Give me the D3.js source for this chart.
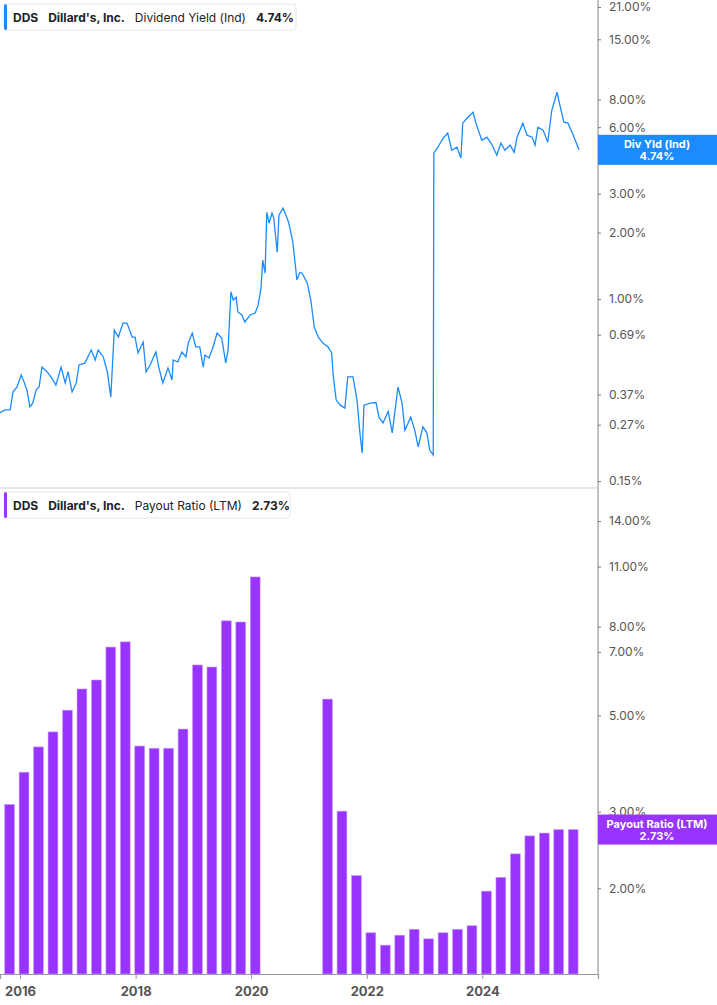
<!DOCTYPE html>
<html><head><meta charset="utf-8">
<script src="https://cdn.jsdelivr.net/npm/d3@7"></script>
<style>body{margin:0;background:#fff;font-family:Inter,"Noto Sans",sans-serif}</style>
</head><body><svg id="c" width="717" height="1005"></svg>
<script>
// Dividend yield (decimal year, %)
const yieldYears = [2015.65,2015.74,2015.83,2015.88,2015.95,2016.02,2016.07,2016.12,2016.17,2016.22,2016.28,2016.33,2016.38,2016.47,2016.55,2016.62,2016.71,2016.78,2016.83,2016.90,2016.97,2017.02,2017.12,2017.23,2017.30,2017.35,2017.44,2017.51,2017.57,2017.63,2017.70,2017.78,2017.85,2017.94,2017.99,2018.04,2018.13,2018.18,2018.25,2018.35,2018.40,2018.47,2018.56,2018.63,2018.65,2018.73,2018.80,2018.87,2018.91,2018.98,2019.04,2019.11,2019.17,2019.20,2019.27,2019.34,2019.41,2019.49,2019.56,2019.60,2019.65,2019.69,2019.74,2019.77,2019.84,2019.89,2019.98,2020.07,2020.12,2020.17,2020.20,2020.24,2020.27,2020.31,2020.36,2020.39,2020.45,2020.48,2020.55,2020.60,2020.65,2020.72,2020.79,2020.84,2020.88,2020.97,2021.03,2021.09,2021.16,2021.24,2021.33,2021.39,2021.42,2021.47,2021.54,2021.62,2021.67,2021.76,2021.83,2021.88,2021.92,2021.95,2022.06,2022.16,2022.21,2022.28,2022.37,2022.44,2022.49,2022.54,2022.61,2022.66,2022.76,2022.83,2022.89,2022.97,2023.04,2023.09,2023.15,2023.16,2023.23,2023.32,2023.40,2023.47,2023.56,2023.63,2023.66,2023.75,2023.84,2023.89,2023.99,2024.08,2024.17,2024.25,2024.32,2024.39,2024.48,2024.55,2024.60,2024.70,2024.77,2024.86,2024.91,2024.96,2025.05,2025.13,2025.20,2025.29,2025.34,2025.41,2025.48,2025.55,2025.62,2025.67];
const yieldValues = [0.305,0.315,0.315,0.380,0.400,0.453,0.421,0.388,0.325,0.338,0.388,0.400,0.492,0.468,0.439,0.408,0.492,0.417,0.468,0.380,0.417,0.503,0.513,0.588,0.530,0.588,0.547,0.468,0.360,0.724,0.673,0.779,0.779,0.673,0.673,0.570,0.639,0.468,0.503,0.576,0.492,0.417,0.488,0.430,0.530,0.519,0.576,0.547,0.632,0.702,0.607,0.607,0.492,0.558,0.541,0.607,0.702,0.667,0.513,0.588,1.08,0.99,1.02,0.874,0.847,0.787,0.847,0.865,0.939,1.12,1.50,1.31,2.47,2.21,2.45,2.33,1.63,2.40,2.58,2.40,2.21,1.81,1.22,1.32,1.31,1.18,0.99,0.747,0.673,0.632,0.607,0.570,0.444,0.349,0.331,0.321,0.444,0.444,0.349,0.248,0.201,0.331,0.338,0.340,0.292,0.275,0.310,0.248,0.315,0.400,0.338,0.255,0.292,0.255,0.214,0.264,0.248,0.207,0.197,4.58,4.87,5.35,5.64,4.72,4.87,4.35,6.26,6.66,7.02,6.26,5.24,5.41,4.98,4.48,5.08,4.72,4.98,4.62,5.41,6.26,5.52,5.41,4.98,6.00,5.82,5.13,7.16,8.64,7.55,6.32,6.26,5.70,5.13,4.74];
// Payout ratio (LTM), quarterly, %
const payoutQuarters = ["2015Q4","2016Q1","2016Q2","2016Q3","2016Q4","2017Q1","2017Q2","2017Q3","2017Q4","2018Q1","2018Q2","2018Q3","2018Q4","2019Q1","2019Q2","2019Q3","2019Q4","2020Q1","2020Q2","2020Q3","2020Q4","2021Q1","2021Q2","2021Q3","2021Q4","2022Q1","2022Q2","2022Q3","2022Q4","2023Q1","2023Q2","2023Q3","2023Q4","2024Q1","2024Q2","2024Q3","2024Q4","2025Q1","2025Q2","2025Q3"];
const payoutValues = [3.12,3.70,4.23,4.58,5.14,5.75,6.03,7.18,7.38,4.25,4.20,4.20,4.65,6.53,6.46,8.25,8.20,10.41,null,null,null,null,5.45,3.01,2.14,1.58,1.48,1.56,1.61,1.53,1.58,1.61,1.64,1.97,2.12,2.40,2.64,2.68,2.73,2.73];
const yieldTicks = [21,15,8,6,3,2,1,0.69,0.37,0.27,0.15];
const payoutTicks = [14,11,8,7,5,3,2];
const yearTicks = [2016,2018,2020,2022,2024];

const BLUE="#1a8cff", PURPLE="#9933ff", GREY="#555";
const svg=d3.select("#c");
const yd = v=>{const y=Math.floor(v);const d0=new Date(y,0,1),d1=new Date(y+1,0,1);return new Date(+d0+(v-y)*(d1-d0));};
const x=d3.scaleTime().domain([yd(2015.654),yd(2026.0)]).range([0,598]);
const yTop=d3.scaleLog().domain([0.141,22.6]).range([487,0]);
const yBot=d3.scaleLog().domain([1.27,16.5]).range([974,490]);

// panes separators / axes
svg.append("line").attr("x1",598).attr("x2",598).attr("y1",0).attr("y2",974).attr("stroke","#999").attr("stroke-width",1.2);
svg.append("line").attr("x1",0).attr("x2",598).attr("y1",488).attr("y2",488).attr("stroke","#ccc");

// line
const pts=yieldYears.map((t,i)=>[yd(t),yieldValues[i]]);
svg.append("path").datum(pts).attr("fill","none").attr("stroke",BLUE).attr("stroke-width",1.3)
 .attr("d",d3.line().x(d=>x(d[0])).y(d=>yTop(d[1])));

// bars
const qc=q=>{const y=+q.slice(0,4),n=+q.slice(5);return y+(n-1)/4+0.07;};
const bw=(x(yd(2020.25))-x(yd(2020)))*0.68;
svg.append("g").selectAll("rect").data(payoutQuarters.map((q,i)=>({q,v:payoutValues[i]})).filter(d=>d.v!=null))
 .join("rect").attr("x",d=>x(yd(qc(d.q)))-bw/2).attr("width",bw)
 .attr("y",d=>yBot(d.v)).attr("height",d=>974-yBot(d.v)).attr("fill",PURPLE).attr("stroke","#c9a0ff").attr("stroke-width",0.6);

// right axes
function rAxis(scale,ticks){
 const g=svg.append("g").attr("transform","translate(598,0)");
 g.call(d3.axisRight(scale).tickValues(ticks).tickSize(3).tickFormat(d=>d.toFixed(2)+"%"));
 g.select(".domain").remove();
 g.selectAll("line").attr("stroke","#777");
 g.selectAll("text").attr("x",11).attr("fill",GREY).attr("font-size",12).attr("font-family","Inter,sans-serif");
}
rAxis(yTop,yieldTicks); rAxis(yBot,payoutTicks);

// bottom axis
const xa=svg.append("g").attr("transform","translate(0,974)")
 .call(d3.axisBottom(x).tickValues(yearTicks.map(t=>yd(t))).tickSize(5).tickFormat(d3.timeFormat("%Y")));
xa.select(".domain").attr("stroke","#999").attr("stroke-width",1.2);
xa.selectAll("line").attr("stroke","#999");
xa.selectAll("text").attr("fill",GREY).attr("font-size",13).attr("font-weight","bold").attr("dy","1.1em").attr("font-family","Inter,sans-serif");

// legends
function legend(y,color,label,val,w){
 const g=svg.append("g").attr("transform",`translate(4,${y})`);
 g.append("rect").attr("width",w).attr("height",26).attr("rx",3).attr("fill","#fff").attr("stroke","#e6e6e6");
 g.append("rect").attr("width",3).attr("height",26).attr("rx",1.5).attr("fill",color);
 const t=g.append("text").attr("x",9).attr("y",17.5).attr("font-size",12).attr("fill","#222").attr("font-family","Inter,sans-serif");
 t.append("tspan").attr("font-weight","bold").text("DDS");
 t.append("tspan").attr("dx",10).attr("font-weight","bold").text("Dillard's, Inc.");
 t.append("tspan").attr("dx",10).text(label);
 t.append("tspan").attr("dx",10).attr("font-weight","bold").text(val);
}
legend(4,BLUE,"Dividend Yield (Ind)","4.74%",292);
legend(492,PURPLE,"Payout Ratio (LTM)","2.73%",286);

// value labels
function tag(v,scale,color,label){
 const cy=scale(v);
 svg.append("rect").attr("x",598).attr("y",cy-15).attr("width",119).attr("height",30).attr("fill",color);
 const t=svg.append("text").attr("x",657).attr("text-anchor","middle").attr("fill","#fff").attr("font-size",11).attr("font-weight","bold").attr("font-family","Inter,sans-serif");
 t.append("tspan").attr("x",657).attr("y",cy-2).text(label);
 t.append("tspan").attr("x",657).attr("y",cy+10).text(v.toFixed(2)+"%");
}
tag(4.74,yTop,BLUE,"Div Yld (Ind)");
tag(2.73,yBot,PURPLE,"Payout Ratio (LTM)");
</script></body></html>
